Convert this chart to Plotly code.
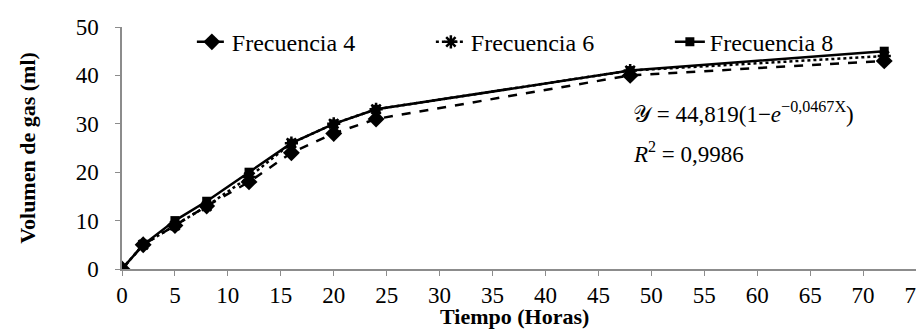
import plotly.graph_objects as go

tiempo = [0, 2, 5, 8, 12, 16, 20, 24, 48, 72]
frec4 = [0, 5, 9, 13, 18, 24, 28, 31, 40, 43]
frec6 = [0, 5, 9, 13, 19, 26, 30, 33, 41, 44]
frec8 = [0, 5, 10, 14, 20, 26, 30, 33, 41, 45]
x_ticks = list(range(0, 80, 5))
y_ticks = list(range(0, 60, 10))

FONT = "Liberation Serif, serif"

fig = go.Figure()
fig.add_trace(go.Scatter(x=tiempo, y=frec4, name="Frecuencia 4", mode="lines+markers",
                         line=dict(color="black", width=2.5, dash="dash"),
                         marker=dict(symbol="diamond", size=13, color="black")))
fig.add_trace(go.Scatter(x=tiempo, y=frec6, name="Frecuencia 6", mode="lines+markers",
                         line=dict(color="black", width=2.5, dash="dot"),
                         marker=dict(symbol="asterisk-open", size=11, color="black",
                                     line=dict(width=2.5, color="black"))))
fig.add_trace(go.Scatter(x=tiempo, y=frec8, name="Frecuencia 8", mode="lines+markers",
                         line=dict(color="black", width=2.5),
                         marker=dict(symbol="square", size=9, color="black")))

fig.update_layout(
    width=924, height=331,
    margin=dict(l=114, r=16, t=19, b=70, autoexpand=False),
    plot_bgcolor="white", paper_bgcolor="white",
    font=dict(family=FONT, size=23, color="black"),
    showlegend=True,
    legend=dict(orientation="h", x=0.088, y=1.03, xanchor="left", yanchor="top",
                font=dict(family=FONT, size=24), bgcolor="rgba(0,0,0,0)", entrywidth=194,
                entrywidthmode="pixels"),
    xaxis=dict(range=[0, 75], tickvals=x_ticks, showline=True, linecolor="#8c8c8c",
               linewidth=1.5, ticks="outside", tickcolor="#8c8c8c", ticklen=5,
               showgrid=False, zeroline=False, automargin=False, ticklabeloverflow="allow",
               tickfont=dict(family=FONT, size=23)),
    yaxis=dict(range=[0, 50], tickvals=y_ticks, showline=True, linecolor="#8c8c8c",
               linewidth=1.5, ticks="outside", tickcolor="#8c8c8c", ticklen=5,
               showgrid=False, zeroline=False, ticklabelstandoff=12, automargin=False,
               title=dict(text="<b>Volumen de gas (ml)</b>", font=dict(family=FONT, size=22), standoff=34),
               tickfont=dict(family=FONT, size=23)),
)

fig.add_annotation(x=0.494, y=-0.198, xref="paper", yref="paper", xanchor="center", yanchor="middle",
                   showarrow=False, font=dict(family=FONT, size=22),
                   text="<b>Tiempo (Horas)</b>")
fig.add_annotation(x=48.1, y=32.3, xref="x", yref="y", xanchor="left", yanchor="middle",
                   showarrow=False, font=dict(family=FONT, size=23),
                   text="\U0001D4B4 = 44,819(1\u2212<i>e</i><sup>\u22120,0467X</sup>)")
fig.add_annotation(x=48.1, y=24.1, xref="x", yref="y", xanchor="left", yanchor="middle",
                   showarrow=False, font=dict(family=FONT, size=23),
                   text="<i>R</i><sup>2</sup> = 0,9986")

fig.write_html("out.html")
